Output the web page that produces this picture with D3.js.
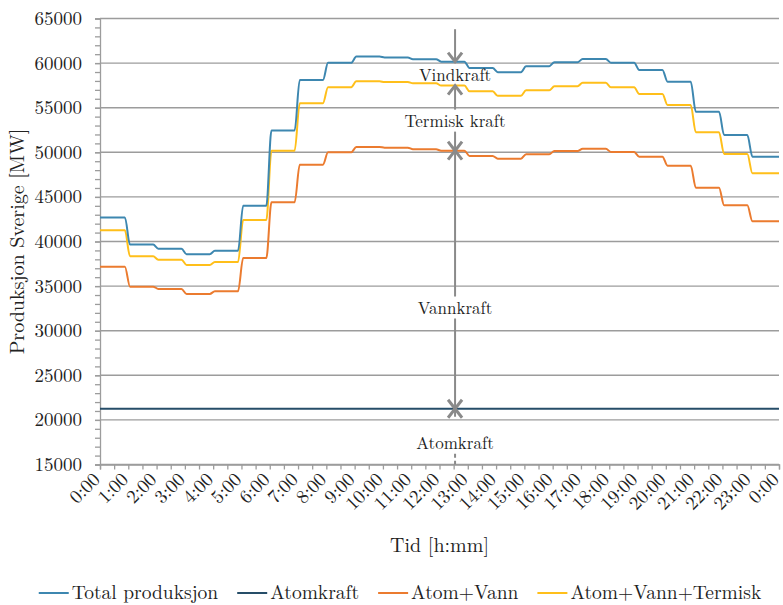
<!DOCTYPE html>
<html>
<head>
<meta charset="utf-8">
<script src="https://cdn.jsdelivr.net/npm/d3@7"></script>
<style>
  body { margin: 0; background: #fff; }
</style>
</head>
<body>
<svg></svg>
<script>
// timeverdier lest av figuren (MW), en verdi per time 0..23
let total = [42700, 39650, 39200, 38580, 38970, 44010, 52450, 58100, 60030, 60730, 60630, 60440,
             60160, 59450, 58980, 59650, 60100, 60460, 60050, 59230, 57920, 54550, 51940, 49510]
let atom = [21250, 21250, 21250, 21250, 21250, 21250, 21250, 21250, 21250, 21250, 21250, 21250,
            21250, 21250, 21250, 21250, 21250, 21250, 21250, 21250, 21250, 21250, 21250, 21250]
let atomVann = [37180, 34940, 34680, 34120, 34420, 38150, 44400, 48610, 50000, 50600, 50520, 50340,
                50180, 49590, 49290, 49780, 50150, 50390, 50040, 49510, 48500, 46030, 44060, 42270]
let atomVannTerm = [41260, 38340, 37960, 37370, 37700, 42410, 50180, 55490, 57290, 57960, 57880, 57730,
                    57480, 56840, 56330, 56950, 57400, 57790, 57290, 56540, 55300, 52240, 49810, 47650]

let hourLabels = ['0:00','1:00','2:00','3:00','4:00','5:00','6:00','7:00','8:00','9:00','10:00','11:00',
                  '12:00','13:00','14:00','15:00','16:00','17:00','18:00','19:00','20:00','21:00','22:00','23:00','0:00']
let yTicks = [15000, 20000, 25000, 30000, 35000, 40000, 45000, 50000, 55000, 60000, 65000]

let seriesNames = ['Total produksjon', 'Atomkraft', 'Atom+Vann', 'Atom+Vann+Termisk']
let seriesColors = ['#3d87b0', '#264d68', '#eb7b2f', '#ffbf1a']
let seriesData = [total, atom, atomVann, atomVannTerm]

let font = "'Latin Modern Roman', 'Liberation Serif', serif"
let textColor = '#222'

let svg = d3.select('svg').attr('width', 783).attr('height', 605)

let x = d3.scaleLinear().domain([0, 24]).range([100, 779])
let y = d3.scaleLinear().domain([15000, 65000]).range([464.5, 18.5])

let gridColor = '#9c9c9c'

// horisontale hjelpelinjer
svg.append('g').selectAll('line')
  .data(yTicks)
  .enter().append('line')
  .attr('x1', x(0)).attr('x2', x(24))
  .attr('y1', d => y(d)).attr('y2', d => y(d))
  .attr('stroke', gridColor)
  .attr('stroke-width', 1.4)

// y-akse, små streker hver 1000
svg.append('g')
  .attr('transform', 'translate(' + x(0) + ',0)')
  .call(d3.axisLeft(y).tickValues(d3.range(15000, 65001, 1000)).tickSize(5).tickFormat(''))
  .call(g => g.selectAll('line, path').attr('stroke', gridColor).attr('stroke-width', 1.3))

svg.append('g')
  .attr('transform', 'translate(' + x(0) + ',0)')
  .call(d3.axisLeft(y).tickValues(yTicks).tickSize(5).tickPadding(13).tickFormat(d3.format('d')))
  .call(g => g.select('.domain').remove())
  .call(g => g.selectAll('line').attr('stroke', gridColor).attr('stroke-width', 1.3))
  .call(g => g.selectAll('text').attr('font-size', 19))

// x-akse, streker hver halvtime
svg.append('g')
  .attr('transform', 'translate(0,' + y(15000) + ')')
  .call(d3.axisBottom(x).tickValues(d3.range(0, 24.01, 0.5)).tickSize(5).tickFormat(''))
  .call(g => g.selectAll('line, path').attr('stroke', gridColor).attr('stroke-width', 1.3))

svg.append('g').selectAll('text')
  .data(hourLabels)
  .enter().append('text')
  .attr('transform', (d, i) => 'translate(' + (x(i) + 1) + ',' + (y(15000) + 16) + ') rotate(-45)')
  .attr('text-anchor', 'end')
  .attr('font-size', 19)
  .text(d => d)

// aksetitler
svg.append('text')
  .attr('x', (x(0) + x(24)) / 2).attr('y', 552)
  .attr('text-anchor', 'middle').attr('font-size', 20)
  .text('Tid [h:mm]')

svg.append('text')
  .attr('transform', 'translate(24,' + ((y(15000) + y(65000)) / 2) + ') rotate(-90)')
  .attr('text-anchor', 'middle').attr('font-size', 20)
  .text('Produksjon Sverige [MW]')

// trappekurver: hver timeverdi holdes gjennom timen, kort overgang ved timeskiftet
function stepPoints(vals) {
  let pts = []
  vals.forEach((v, i) => {
    pts.push([i === 0 ? 0 : i + 0.06, v])
    pts.push([i === vals.length - 1 ? 24 : i + 0.88, v])
  })
  return pts
}

let lineGen = d3.line()
  .x(d => x(d[0]))
  .y(d => y(d[1]))
  .curve(d3.curveMonotoneX)

let drawOrder = [1, 2, 3, 0]
svg.append('g').selectAll('path')
  .data(drawOrder)
  .enter().append('path')
  .attr('d', k => lineGen(stepPoints(seriesData[k])))
  .attr('fill', 'none')
  .attr('stroke', k => seriesColors[k])
  .attr('stroke-width', 2)

// annotasjon ved 12:33
let annX = x(12.55)
let annColor = '#8a8a8a'
let ann = svg.append('g')
let h = 12

function vline(y1, y2, dash) {
  ann.append('line')
    .attr('x1', annX).attr('x2', annX)
    .attr('y1', y1).attr('y2', y2)
    .attr('stroke', annColor).attr('stroke-width', 2)
    .attr('stroke-dasharray', dash || null)
}
function arrow(yt, dir) {
  // dir = 1 peker ned, -1 peker opp
  ann.append('path')
    .attr('d', 'M' + (annX - 7) + ',' + (yt - 9 * dir) + 'L' + annX + ',' + yt + 'L' + (annX + 7) + ',' + (yt - 9 * dir))
    .attr('fill', 'none')
    .attr('stroke', annColor).attr('stroke-width', 3)
}
function label(txt, yc) {
  ann.append('text')
    .attr('x', annX).attr('y', yc + 6)
    .attr('text-anchor', 'middle').attr('font-size', 17)
    .text(txt)
}

let yTot = y(total[h]), yAVT = y(atomVannTerm[h]), yAV = y(atomVann[h]), yA = y(atom[h])

// Vindkraft
vline(y(63800), yTot)
arrow(yTot, 1)
label('Vindkraft', y(58650))
// Termisk kraft
let lt = y(53550)
arrow(yAVT, -1)
vline(yAVT, lt - 11)
vline(lt + 11, yAV)
arrow(yAV, 1)
label('Termisk kraft', lt)
// Vannkraft
let lv = y(32600)
arrow(yAV, -1)
vline(yAV, lv - 11)
vline(lv + 11, yA)
arrow(yA, 1)
label('Vannkraft', lv)
// Atomkraft
let la = y(17450)
arrow(yA, -1)
vline(yA, yA + 8)
vline(la + 11, y(15000), '4,3')
label('Atomkraft', la)

// tegnforklaring
let legend = svg.append('g')
let lx = 0
let items = legend.selectAll('g')
  .data(seriesNames)
  .enter().append('g')
items.append('line')
  .attr('x1', 0).attr('x2', 30)
  .attr('y1', 0).attr('y2', 0)
  .attr('stroke', (d, i) => seriesColors[i]).attr('stroke-width', 2)
items.append('text')
  .attr('x', 33).attr('y', 6)
  .attr('font-size', 19.5)
  .style('font-family', font)
  .text(d => d)
items.each(function() {
  let w = this.querySelector('text').getComputedTextLength()
  d3.select(this).attr('transform', 'translate(' + lx + ',0)')
  lx += 33 + w + 19
})
lx -= 19
legend.attr('transform', 'translate(' + (400 - lx / 2) + ',593)')

// serif på all tekst
svg.selectAll('text').style('font-family', font).attr('fill', textColor)
</script>
</body>
</html>
